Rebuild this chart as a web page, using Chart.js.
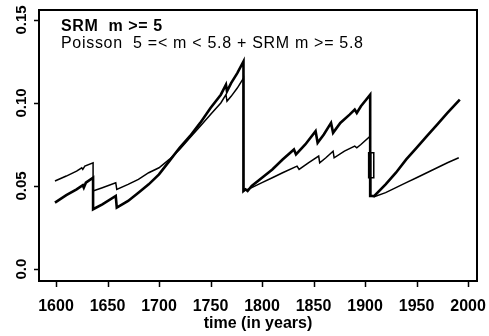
<!DOCTYPE html>
<html>
<head>
<meta charset="utf-8">
<script src="https://cdn.jsdelivr.net/npm/chart.js@4.4.1/dist/chart.umd.min.js"></script>
<style>
  html, body { margin: 0; padding: 0; background: #fff; }
  #wrap { width: 489px; height: 336px; }
</style>
</head>
<body>
<div id="wrap"><canvas id="rateChart" width="489" height="336"></canvas></div>
<script>
// SRM m >= 5 (thick line)
var srmYears = [1599, 1610, 1620, 1626, 1627, 1629, 1636, 1636, 1645, 1658, 1659, 1670, 1680, 1690, 1700, 1710, 1720, 1730, 1740, 1750, 1760, 1765, 1766, 1770, 1776, 1782, 1782, 1784, 1786, 1790, 1800, 1810, 1820, 1831, 1833, 1842, 1852, 1854, 1860, 1867, 1869, 1876, 1885, 1890, 1892, 1896, 1905, 1905, 1909, 1920, 1930, 1940, 1950, 1960, 1970, 1980, 1992];
var srmRate  = [0.040, 0.0445, 0.048, 0.0505, 0.049, 0.052, 0.055, 0.036, 0.039, 0.044, 0.037, 0.041, 0.046, 0.051, 0.057, 0.065, 0.073, 0.080, 0.088, 0.097, 0.105, 0.111, 0.107, 0.112, 0.118, 0.125, 0.047, 0.048, 0.047, 0.050, 0.055, 0.060, 0.066, 0.072, 0.069, 0.075, 0.083, 0.076, 0.081, 0.088, 0.082, 0.088, 0.093, 0.096, 0.094, 0.098, 0.105, 0.044, 0.044, 0.051, 0.058, 0.066, 0.073, 0.080, 0.087, 0.094, 0.102];

// Poisson 5 =< m < 5.8 + SRM m >= 5.8 (thin line)
var mixYears = [1599, 1610, 1620, 1625, 1626, 1628, 1636, 1636, 1645, 1658, 1659, 1670, 1680, 1690, 1700, 1710, 1720, 1730, 1740, 1750, 1760, 1765, 1766, 1770, 1776, 1782, 1782, 1786, 1790, 1800, 1810, 1820, 1834, 1836, 1845, 1855, 1856, 1862, 1869, 1870, 1880, 1890, 1892, 1896, 1905, 1905, 1903.5, 1903.5, 1908.5, 1908.5, 1905.5, 1905.5, 1909, 1920, 1930, 1940, 1950, 1960, 1970, 1980, 1991];
var mixRate  = [0.053, 0.056, 0.059, 0.061, 0.060, 0.062, 0.064, 0.047, 0.049, 0.052, 0.048, 0.051, 0.054, 0.058, 0.061, 0.066, 0.072, 0.079, 0.086, 0.093, 0.100, 0.105, 0.101, 0.104, 0.109, 0.115, 0.047, 0.048, 0.049, 0.052, 0.055, 0.058, 0.062, 0.060, 0.064, 0.068, 0.064, 0.067, 0.071, 0.067, 0.071, 0.074, 0.073, 0.075, 0.080, 0.070, 0.070, 0.055, 0.055, 0.070, 0.070, 0.044, 0.0435, 0.046, 0.049, 0.052, 0.055, 0.058, 0.061, 0.064, 0.067];

var xTickValues = [1600, 1650, 1700, 1750, 1800, 1850, 1900, 1950, 2000];
var yTickValues = [0, 0.05, 0.10, 0.15];
var yTickLabels = ['0.0', '0.05', '0.10', '0.15'];

var legendLines = ['SRM  m >= 5', 'Poisson  5 =< m < 5.8 + SRM m >= 5.8'];

var fontFamily = '"Liberation Sans", Arial, sans-serif';

function toPoints(xs, ys) {
  return xs.map(function (x, i) { return { x: x, y: ys[i] }; });
}

// box around the plot, outward tick marks, upright y labels and the two text lines in the corner
var boxAndNotes = {
  id: 'boxAndNotes',
  afterDraw: function (chart) {
    var a = chart.chartArea, ctx = chart.ctx;
    var xScale = chart.scales.x, yScale = chart.scales.y;
    ctx.save();
    ctx.strokeStyle = '#000';
    ctx.lineWidth = 2;
    ctx.strokeRect(a.left, a.top, a.right - a.left, a.bottom - a.top);

    ctx.lineWidth = 1.5;
    ctx.beginPath();
    xTickValues.forEach(function (v) {
      var px = Math.round(xScale.getPixelForValue(v)) + 0.5;
      ctx.moveTo(px, a.bottom);
      ctx.lineTo(px, a.bottom + 6);
    });
    yTickValues.forEach(function (v) {
      var py = Math.round(yScale.getPixelForValue(v)) + 0.5;
      ctx.moveTo(a.left, py);
      ctx.lineTo(a.left - 5, py);
    });
    ctx.stroke();

    ctx.fillStyle = '#000';
    ctx.textAlign = 'center';
    ctx.textBaseline = 'middle';
    ctx.font = 'bold 15px ' + fontFamily;
    yTickValues.forEach(function (v, i) {
      var py = yScale.getPixelForValue(v);
      ctx.save();
      ctx.translate(22, py);
      ctx.rotate(-Math.PI / 2);
      ctx.fillText(yTickLabels[i], 0, 0);
      ctx.restore();
    });

    ctx.textAlign = 'left';
    ctx.letterSpacing = '0.6px';
    ctx.font = 'bold 16px ' + fontFamily;
    ctx.fillText(legendLines[0], a.left + 22, a.top + 17);
    ctx.letterSpacing = '0.7px';
    ctx.font = '16px ' + fontFamily;
    ctx.fillText(legendLines[1], a.left + 22, a.top + 34);
    ctx.restore();
  }
};

new Chart(document.getElementById('rateChart').getContext('2d'), {
  type: 'line',
  data: {
    datasets: [{
      label: legendLines[0],
      data: toPoints(srmYears, srmRate),
      borderColor: '#000',
      borderWidth: 2.6,
      pointRadius: 0,
      tension: 0
    }, {
      label: legendLines[1],
      data: toPoints(mixYears, mixRate),
      borderColor: '#000',
      borderWidth: 1.5,
      pointRadius: 0,
      tension: 0
    }]
  },
  options: {
    responsive: false,
    animation: false,
    layout: { padding: { left: 0, right: 12, top: 10, bottom: 3 } },
    plugins: {
      legend: { display: false },
      tooltip: { enabled: false }
    },
    scales: {
      x: {
        type: 'linear',
        min: 1583.5,
        max: 2008.7,
        afterBuildTicks: function (scale) {
          scale.ticks = xTickValues.map(function (v) { return { value: v }; });
        },
        afterFit: function (scale) {
          scale.height = 52;
          scale.paddingLeft = 0;
          scale.paddingRight = 0;
        },
        grid: { display: false, tickLength: 6 },
        border: { display: false },
        ticks: {
          color: '#000',
          font: { family: fontFamily, size: 16, weight: 'bold' },
          padding: 10,
          maxRotation: 0,
          callback: function (value) { return String(value); }
        },
        title: {
          display: true,
          text: 'time (in years)',
          color: '#000',
          font: { family: fontFamily, size: 16, weight: 'bold' },
          padding: { top: 0, bottom: 0 }
        }
      },
      y: {
        type: 'linear',
        min: -0.0072,
        max: 0.156,
        afterBuildTicks: function (scale) {
          scale.ticks = yTickValues.map(function (v) { return { value: v }; });
        },
        afterFit: function (scale) {
          scale.width = 39;
          scale.paddingTop = 0;
          scale.paddingBottom = 0;
        },
        grid: { display: false },
        border: { display: false },
        // labels are drawn upright by the plugin above
        ticks: { display: false }
      }
    }
  },
  plugins: [boxAndNotes]
});
</script>
</body>
</html>
